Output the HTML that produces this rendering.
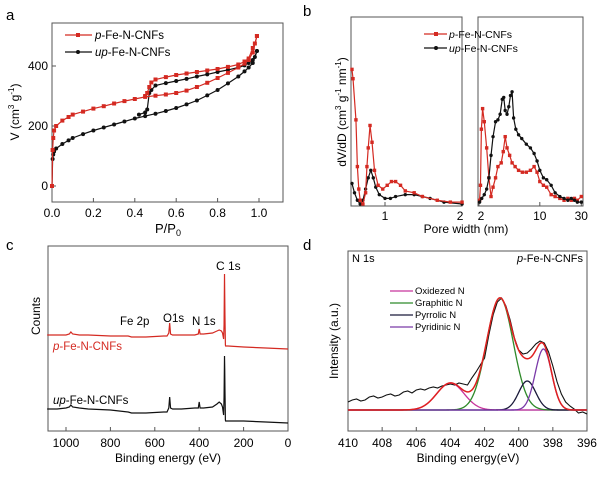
<!DOCTYPE html>
<html><head><meta charset="utf-8">
<style>
body{margin:0;background:#fff}
svg{display:block;font-family:"Liberation Sans",sans-serif}
</style></head>
<body>
<svg id="fig" width="600" height="478" viewBox="0 0 600 478" xmlns="http://www.w3.org/2000/svg">
<text x="6" y="20" font-size="15">a</text>
<text x="303" y="16" font-size="15">b</text>
<text x="6" y="250" font-size="15">c</text>
<text x="303" y="250" font-size="15">d</text>

<g id="pa">
<rect x="52" y="23" width="231" height="179" fill="none" stroke="#555" stroke-width="1"/>
<text transform="translate(19,112) rotate(-90)" text-anchor="middle" font-size="12">V (cm<tspan font-size="8" dy="-5">3</tspan><tspan dy="5"> g</tspan><tspan font-size="8" dy="-5">-1</tspan><tspan dy="5">)</tspan></text>
<text x="168" y="233" text-anchor="middle" font-size="13">P/P<tspan font-size="9" dy="3">0</tspan></text>
<g>
<line x1="65" y1="35" x2="92" y2="35" stroke="#d42a22" stroke-width="1.3"/>
<rect x="76" y="33" width="4" height="4" fill="#d42a22"/>
<text x="95" y="39" font-size="11.5"><tspan font-style="italic">p</tspan>-Fe-N-CNFs</text>
<line x1="65" y1="52" x2="92" y2="52" stroke="#111" stroke-width="1.3"/>
<circle cx="78" cy="52" r="2" fill="#111"/>
<text x="95" y="56" font-size="11.5"><tspan font-style="italic">up</tspan>-Fe-N-CNFs</text>
</g>
</g>

<g id="pb">
<rect x="351" y="17" width="111" height="189" fill="none" stroke="#555"/>
<rect x="478" y="17" width="105" height="189" fill="none" stroke="#555"/>
<text transform="translate(346,112) rotate(-90)" text-anchor="middle" font-size="12">dV/dD (cm<tspan font-size="8" dy="-5">3</tspan><tspan dy="5"> g</tspan><tspan font-size="8" dy="-5">-1</tspan><tspan dy="5"> nm</tspan><tspan font-size="8" dy="-5">-1</tspan><tspan dy="5">)</tspan></text>
<text x="466" y="233" text-anchor="middle" font-size="12">Pore width (nm)</text>
<g>
<line x1="424" y1="34" x2="447" y2="34" stroke="#d42a22" stroke-width="1.3"/>
<rect x="434" y="32" width="4" height="4" fill="#d42a22"/>
<text x="449" y="38" font-size="10.5"><tspan font-style="italic">p</tspan>-Fe-N-CNFs</text>
<line x1="424" y1="48" x2="447" y2="48" stroke="#111" stroke-width="1.3"/>
<circle cx="436" cy="48" r="2" fill="#111"/>
<text x="449" y="52" font-size="10.5"><tspan font-style="italic">up</tspan>-Fe-N-CNFs</text>
</g>
</g>

<g id="pc">
<rect x="48" y="246" width="240" height="185" fill="none" stroke="#555"/>
<text transform="translate(40,316) rotate(-90)" text-anchor="middle" font-size="12">Counts</text>
<text x="168" y="462" text-anchor="middle" font-size="12">Binding energy (eV)</text>
<text x="216" y="270" font-size="12">C 1s</text>
<text x="120" y="325" font-size="11.5">Fe 2p</text>
<text x="163" y="322" font-size="11.5">O1s</text>
<text x="192" y="325" font-size="11.5">N 1s</text>
<text x="53" y="350" font-size="11.5" fill="#d42a22"><tspan font-style="italic">p</tspan>-Fe-N-CNFs</text>
<text x="53" y="404" font-size="11.5"><tspan font-style="italic">up</tspan>-Fe-N-CNFs</text>
</g>

<g id="pd">
<rect x="348" y="251" width="239" height="180" fill="none" stroke="#555"/>
<text transform="translate(338,341) rotate(-90)" text-anchor="middle" font-size="12">Intensity (a.u.)</text>
<text x="468" y="462" text-anchor="middle" font-size="12">Binding energy(eV)</text>
<text x="352" y="262" font-size="11">N 1s</text>
<text x="583" y="262" text-anchor="end" font-size="11"><tspan font-style="italic">p</tspan>-Fe-N-CNFs</text>
<g font-size="9.5">
<line x1="390" y1="291" x2="413" y2="291" stroke="#c8359c" stroke-width="1.3"/>
<text x="415" y="294">Oxidezed N</text>
<line x1="390" y1="303" x2="413" y2="303" stroke="#2f8a2a" stroke-width="1.3"/>
<text x="415" y="306">Graphitic N</text>
<line x1="390" y1="315" x2="413" y2="315" stroke="#1a1a3a" stroke-width="1.3"/>
<text x="415" y="318">Pyrrolic N</text>
<line x1="390" y1="327" x2="413" y2="327" stroke="#7a3aa8" stroke-width="1.3"/>
<text x="415" y="330">Pyridinic N</text>
</g>
</g>
</svg>
<script>
// ---- Panel a data ----
const aXTicks = [0.0, 0.2, 0.4, 0.6, 0.8, 1.0];
const aXTickLabels = ["0.0", "0.2", "0.4", "0.6", "0.8", "1.0"];
const aYTicks = [0, 200, 400];
const pAdsP = [0,0.003,0.006,0.01,0.02,0.05,0.08,0.1,0.15,0.2,0.25,0.3,0.35,0.4,0.45,0.5,0.55,0.6,0.65,0.7,0.75,0.8,0.85,0.9,0.93,0.95,0.97,0.99];
const pAdsV = [0,120,160,185,200,218,230,238,248,258,266,275,283,290,297,301,305,310,318,330,344,360,377,395,408,420,445,500];
const pDesP = [0.99,0.98,0.97,0.95,0.93,0.9,0.85,0.8,0.75,0.7,0.65,0.6,0.55,0.5,0.48,0.47,0.46,0.45];
const pDesV = [500,475,460,425,415,405,397,390,385,380,375,370,363,355,345,330,310,300];
const upAdsP = [0,0.003,0.006,0.01,0.02,0.05,0.08,0.1,0.15,0.2,0.25,0.3,0.35,0.4,0.45,0.5,0.55,0.6,0.65,0.7,0.75,0.8,0.85,0.9,0.93,0.95,0.97,0.99];
const upAdsV = [0,90,105,115,125,140,152,160,173,185,195,205,215,225,233,241,250,260,272,285,302,320,342,365,382,395,410,450];
const upDesP = [0.99,0.98,0.97,0.95,0.93,0.9,0.85,0.8,0.75,0.7,0.65,0.6,0.55,0.5,0.48,0.47,0.46,0.45,0.42];
const upDesV = [450,430,420,410,402,395,387,380,372,365,357,350,343,335,320,310,255,245,238];

// ---- Panel b data ----
const bLeftTicks = [1, 2];
const bRightTicks = [2, 10, 30];
const pLeftD = [0.743,0.75,0.77,0.78,0.79,0.8,0.82,0.84,0.85,0.86,0.874,0.89,0.91,0.94,0.98,1.02,1.06,1.1,1.15,1.2,1.3,1.4,1.6,1.8,2.0];
const pLeftV = [72,67,45,20,8,2,0,6,20,30,42,33,18,10,8,10,12,12,10,7,6,4,2,1,1];
const upLeftD = [0.743,0.76,0.78,0.8,0.82,0.84,0.86,0.88,0.9,0.92,0.95,1.0,1.05,1.1,1.2,1.3,1.4,1.5,1.7,2.0];
const upLeftV = [11,6,2,0,2,8,14,18,14,9,5,3,3,4,5,5,4,3,1,0];
const pRightD = [2.03,2.08,2.13,2.2,2.3,2.45,2.6,2.75,2.9,3.1,3.3,3.6,3.8,4.0,4.2,4.5,4.8,5.2,5.7,6.3,7,7.8,8.6,9.3,10,11,12,13.5,15,17,19,21,23,25,27,30];
const pRightV = [2,10,40,51,44,30,14,4,9,14,20,22,28,36,30,26,22,20,18,17,17,18,20,17,12,10,9,5,4,3,2,3,2,3,2,4];
const upRightD = [2.03,2.15,2.3,2.45,2.6,2.75,2.9,3.1,3.3,3.5,3.7,3.85,4.0,4.2,4.4,4.6,4.8,5.0,5.3,5.7,6.2,7,7.8,8.6,9.3,10,11,12,13.5,15,17,19,21,23,25,27,30];
const upRightV = [1,3,5,8,14,26,36,44,45,48,56,57,50,48,52,58,60,46,40,37,35,32,30,27,23,18,14,13,10,6,4,3,2,3,2,1,1];

// ---- Panel c data ----
const cXTicks = [1000, 800, 600, 400, 200, 0];
const cEnergy = [1100,1040,1000,985,978,970,940,900,800,720,705,640,560,545,537,533,529,520,480,420,404,400,396,380,340,320,310,300,295,290,288,286,285,284,283,282,281,270,200,100,0];
const pCounts = [0,0,0,1,3,1,0,0,-1,-1,-2,-2,-1,-1,2,12,1,0,0,0,1,6,1,1,2,4,5,4,2,-4,10,61,40,20,5,-10,-11,-11,-12,-13,-14];
const upCounts = [0,0,1,2,4,2,1,0,-1,-3,-4,-4,-3,-3,1,12,1,0,0,1,1,7,1,1,2,5,7,5,2,-6,12,53,40,20,5,-11,-12,-12,-12,-13,-14];

// ---- Panel d data ----
const dXTicks = [410, 408, 406, 404, 402, 400, 398, 396];
const compNames = ["oxidized", "graphitic", "pyrrolic", "pyridinic"];
const compCenters = [404.0, 401.1, 399.5, 398.55];
const compHeights = [27, 112, 29, 61];
const compSigmas = [0.8, 0.78, 0.5, 0.48];
const compColors = ["#c8359c", "#2f8a2a", "#1a1a3a", "#7a3aa8"];
const rawE = [410,409.75,409.5,409.25,409,408.75,408.5,408.25,408,407.75,407.5,407.25,407,406.75,406.5,406.25,406,405.75,405.5,405.25,405,404.75,404.5,404.25,404,403.75,403.5,403.25,403,402.75,402.5,402.25,402,401.75,401.5,401.25,401,400.75,400.5,400.25,400,399.75,399.5,399.25,399,398.75,398.5,398.25,398,397.75,397.5,397.25,397,396.75,396.5,396.25,396];
const rawI = [8,10,11,9,10,13,14,12,13,15,16,14,15,18,19,17,20,21,20,22,23,22,24,25,26,25,27,26,25,32,38,45,52,75,95,108,112,104,90,72,60,56,57,61,66,69,67,58,44,28,16,8,4,1,-3,-2,-4];

const NS = "http://www.w3.org/2000/svg";
const svg = document.getElementById("fig");
function mk(tag, parent) { const e = document.createElementNS(NS, tag); (parent || svg).appendChild(e); return e; }
function txt(parent, x, y, s, anchor, size) {
  const t = mk("text", parent);
  t.setAttribute("x", x); t.setAttribute("y", y);
  t.setAttribute("text-anchor", anchor || "middle");
  t.setAttribute("font-size", size || 12);
  t.textContent = s;
  return t;
}
function pathD(xs, ys, fx, fy) { return xs.map((v, i) => (i ? "L" : "M") + fx(v).toFixed(2) + "," + fy(ys[i]).toFixed(2)).join(""); }

// ===== Panel a =====
const pa = document.getElementById("pa");
const ax = p => 52 + p * 207;
const ay = v => 186 - v * 0.3;
aXTicks.forEach((t, i) => {
  const l = mk("line", pa);
  
  
  l.setAttribute("x1", ax(t)); l.setAttribute("x2", ax(t)); l.setAttribute("y1", 202); l.setAttribute("y2", 198); l.setAttribute("stroke", "#555");
  const tx = txt(pa, ax(t), 217, aXTickLabels[i], "middle", 12);
  
  
});
aYTicks.forEach(t => {
  const l = mk("line", pa);
  
  
  l.setAttribute("x1", 52); l.setAttribute("x2", 56); l.setAttribute("y1", ay(t)); l.setAttribute("y2", ay(t)); l.setAttribute("stroke", "#555");
  const tx = txt(pa, 48, ay(t) + 4, String(t), "end", 12);
  
  
});
function isoSeries(xs, ys, color, square, name) {
  const p = mk("path", pa);
  
  
  p.setAttribute("d", pathD(xs, ys, ax, ay)); p.setAttribute("fill", "none"); p.setAttribute("stroke", color); p.setAttribute("stroke-width", "1.2");
  xs.forEach((x, i) => {
    let m;
    if (square) { m = mk("rect", pa); m.setAttribute("x", ax(x) - 2); m.setAttribute("y", ay(ys[i]) - 2); m.setAttribute("width", 4); m.setAttribute("height", 4); }
    else { m = mk("circle", pa); m.setAttribute("cx", ax(x)); m.setAttribute("cy", ay(ys[i])); m.setAttribute("r", 2); }
    
    
    m.setAttribute("fill", color);
  });
}
isoSeries(upAdsP, upAdsV, "#111", false, "up-adsorption");
isoSeries(upDesP, upDesV, "#111", false, "up-desorption");
isoSeries(pAdsP, pAdsV, "#d42a22", true, "p-adsorption");
isoSeries(pDesP, pDesV, "#d42a22", true, "p-desorption");

// ===== Panel b =====
const pb = document.getElementById("pb");
const bxL = d => 385 + Math.log10(d) * 256;
const bxR = d => 479 + (Math.log10(d) - Math.log10(2)) * 87;
const by = v => 204 - v * 1.87;
bLeftTicks.forEach(t => {
  const l = mk("line", pb);
  
  
  l.setAttribute("x1", bxL(t)); l.setAttribute("x2", bxL(t)); l.setAttribute("y1", 206); l.setAttribute("y2", 202); l.setAttribute("stroke", "#555");
  const tx = txt(pb, bxL(t) - (t === 2 ? 2 : 0), 220, String(t), "middle", 12);
  
  
});
bRightTicks.forEach(t => {
  const l = mk("line", pb);
  
  
  l.setAttribute("x1", bxR(t)); l.setAttribute("x2", bxR(t)); l.setAttribute("y1", 206); l.setAttribute("y2", 202); l.setAttribute("stroke", "#555");
  const tx = txt(pb, bxR(t) + (t === 2 ? 2 : 0), 220, String(t), "middle", 12);
  
  
});
function psdSeries(xs, ys, fx, color, square, name) {
  const p = mk("path", pb);
  
  
  p.setAttribute("d", pathD(xs, ys, fx, by)); p.setAttribute("fill", "none"); p.setAttribute("stroke", color); p.setAttribute("stroke-width", "1.2");
  xs.forEach((x, i) => {
    let m;
    if (square) { m = mk("rect", pb); m.setAttribute("x", fx(x) - 1.7); m.setAttribute("y", by(ys[i]) - 1.7); m.setAttribute("width", 3.4); m.setAttribute("height", 3.4); }
    else { m = mk("circle", pb); m.setAttribute("cx", fx(x)); m.setAttribute("cy", by(ys[i])); m.setAttribute("r", 1.7); }
    
    
    m.setAttribute("fill", color);
  });
}
psdSeries(upLeftD, upLeftV, bxL, "#111", false, "up-psd-micro");
psdSeries(pLeftD, pLeftV, bxL, "#d42a22", true, "p-psd-micro");
psdSeries(pRightD, pRightV, bxR, "#d42a22", true, "p-psd-meso");
psdSeries(upRightD, upRightV, bxR, "#111", false, "up-psd-meso");

// ===== Panel c =====
const pc = document.getElementById("pc");
const cx = e => 288 - e * 0.222;
cXTicks.forEach(t => {
  const l = mk("line", pc);
  
  
  l.setAttribute("x1", cx(t)); l.setAttribute("x2", cx(t)); l.setAttribute("y1", 431); l.setAttribute("y2", 427); l.setAttribute("stroke", "#555");
  const tx = txt(pc, cx(t), 447, String(t), "middle", 12);
  
  
});
const pcLine = mk("path", pc);


pcLine.setAttribute("d", pathD(cEnergy.map(e => Math.min(e, 1085)), pCounts, cx, v => 335 - v));
pcLine.setAttribute("fill", "none"); pcLine.setAttribute("stroke", "#d42a22"); pcLine.setAttribute("stroke-width", "1.2");
const ucLine = mk("path", pc);


ucLine.setAttribute("d", pathD(cEnergy.map(e => Math.min(e, 1085)), upCounts, cx, v => 409 - v));
ucLine.setAttribute("fill", "none"); ucLine.setAttribute("stroke", "#111"); ucLine.setAttribute("stroke-width", "1.2");

// ===== Panel d =====
const pd = document.getElementById("pd");
const dx = e => 348 + (410 - e) * 17.07;
const dy = v => 410 - v;
dXTicks.forEach(t => {
  const l = mk("line", pd);
  
  
  l.setAttribute("x1", dx(t)); l.setAttribute("x2", dx(t)); l.setAttribute("y1", 431); l.setAttribute("y2", 427); l.setAttribute("stroke", "#555");
  const tx = txt(pd, dx(t), 447, String(t), "middle", 12);
  
  
});
const grid = [];
for (let e = 410; e >= 395.99; e -= 0.05) grid.push(+e.toFixed(2));
function gauss(i, e) { return compHeights[i] * Math.exp(-0.5 * Math.pow((e - compCenters[i]) / compSigmas[i], 2)); }
const rawPath = mk("path", pd);


rawPath.setAttribute("d", pathD(rawE, rawI, dx, dy)); rawPath.setAttribute("fill", "none"); rawPath.setAttribute("stroke", "#111"); rawPath.setAttribute("stroke-width", "1.1");
const base = mk("line", pd);


base.setAttribute("x1", 348); base.setAttribute("x2", 587); base.setAttribute("y1", dy(0)); base.setAttribute("y2", dy(0)); base.setAttribute("stroke", "#5a3aa8"); base.setAttribute("stroke-width", "1.3");
compNames.forEach((n, i) => {
  const p = mk("path", pd);
  
  
  p.setAttribute("d", pathD(grid, grid.map(e => gauss(i, e)), dx, dy)); p.setAttribute("fill", "none"); p.setAttribute("stroke", compColors[i]); p.setAttribute("stroke-width", "1.3");
});
const env = mk("path", pd);


env.setAttribute("d", pathD(grid, grid.map(e => compNames.reduce((s, _, i) => s + gauss(i, e), 0)), dx, dy));
env.setAttribute("fill", "none"); env.setAttribute("stroke", "#e02020"); env.setAttribute("stroke-width", "1.5");
</script>
</body></html>
